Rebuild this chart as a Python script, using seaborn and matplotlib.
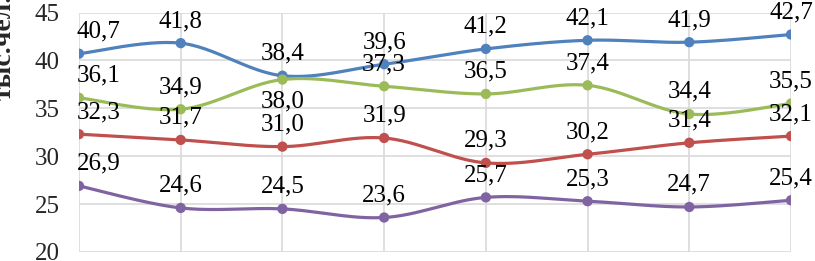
import numpy as np
import pandas as pd
import matplotlib.pyplot as plt
import seaborn as sns

# values (x categories are cropped out of the picture)
positions = [0, 1, 2, 3, 4, 5, 6, 7]
blue = [40.7, 41.8, 38.4, 39.6, 41.2, 42.1, 41.9, 42.7]
green = [36.1, 34.9, 38.0, 37.3, 36.5, 37.4, 34.4, 35.5]
red = [32.3, 31.7, 31.0, 31.9, 29.3, 30.2, 31.4, 32.1]
purple = [26.9, 24.6, 24.5, 23.6, 25.7, 25.3, 24.7, 25.4]
y_ticks = [20, 25, 30, 35, 40, 45]

series = {'blue': blue, 'green': green, 'red': red, 'purple': purple}
colors = {'blue': '#4F81BD', 'green': '#9BBB59', 'red': '#C0504D', 'purple': '#8064A2'}


def smooth(x, y, n=30):
    # excel-style smoothed line (catmull-rom / bezier with 1/6 tension)
    x = np.asarray(x, float)
    y = np.asarray(y, float)
    px = np.r_[x[0], x, x[-1]]
    py = np.r_[y[0], y, y[-1]]
    xs, ys = [], []
    t = np.linspace(0, 1, n)
    for i in range(1, len(px) - 2):
        p0 = np.array([px[i], py[i]])
        p3 = np.array([px[i + 1], py[i + 1]])
        p1 = p0 + (np.array([px[i + 1], py[i + 1]]) - np.array([px[i - 1], py[i - 1]])) / 6
        p2 = p3 - (np.array([px[i + 2], py[i + 2]]) - np.array([px[i], py[i]])) / 6
        b = ((1 - t) ** 3)[:, None] * p0 + (3 * (1 - t) ** 2 * t)[:, None] * p1 \
            + (3 * (1 - t) * t ** 2)[:, None] * p2 + (t ** 3)[:, None] * p3
        xs.extend(b[:, 0])
        ys.extend(b[:, 1])
    return xs, ys


pts = pd.DataFrame([(k, x, v) for k, vals in series.items() for x, v in zip(positions, vals)],
                   columns=['series', 'x', 'value'])
curves = []
for k, vals in series.items():
    sx, sy = smooth(positions, vals)
    curves.append(pd.DataFrame({'series': k, 'x': sx, 'value': sy}))
curves = pd.concat(curves, ignore_index=True)

sns.set_style('white')
plt.rcParams['font.family'] = ['Liberation Serif', 'DejaVu Serif']

fig = plt.figure(figsize=(8.15, 2.61), dpi=100)
ax = fig.add_axes([79 / 815, 9 / 261, (791 - 79) / 815, (252 - 12.5) / 261])

sns.lineplot(data=curves, x='x', y='value', hue='series', palette=colors,
             estimator=None, sort=False, linewidth=2.3, legend=False, ax=ax)
sns.scatterplot(data=pts, x='x', y='value', hue='series', palette=colors, s=55,
                edgecolor='none', legend=False, ax=ax, zorder=3)

for k, vals in series.items():
    for i, (x, v) in enumerate(zip(positions, vals)):
        below = (k == 'green' and i == 2)
        dx = 14 if i == 0 else 0  # first labels are pushed inside the plot area
        ax.annotate(f'{v:.1f}'.replace('.', ','), (x, v),
                    xytext=(dx, -8 if below else 8), textcoords='offset points',
                    ha='center', va='top' if below else 'bottom', fontsize=18,
                    color='black', annotation_clip=False)

ax.set_xlim(0, 7)
ax.set_ylim(20, 45)
ax.set_xticks(positions)
ax.set_xticklabels([])
ax.set_yticks(y_ticks)
ax.tick_params(axis='y', length=0, pad=14, labelsize=18)
ax.tick_params(axis='x', length=0)
ax.grid(True, color='#D9D9D9', linewidth=1.2)
for s in ax.spines.values():
    s.set_visible(False)
ax.set_xlabel('')
ax.set_ylabel('')

fig.text(17 / 815, 1 - 100 / 261, 'тыс.чел.', rotation=90, ha='right', va='bottom',
         fontsize=20, fontweight='bold')

fig.savefig('out.png', dpi=100)
